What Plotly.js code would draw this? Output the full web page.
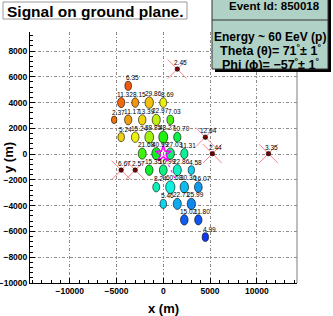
<!DOCTYPE html>
<html><head><meta charset="utf-8">
<script src="https://cdn.plot.ly/plotly-3.0.1.min.js"></script>
<style>html,body{margin:0;padding:0;background:#fff}#chart{width:333px;height:316px}</style>
</head><body><div id="chart"></div>
<script>
// ---- data ----
const stationX = [-3750,
  -4500, -3000, -1500, 0,
  -5250, -3750, -2250, -750, 750,
  -4500, -3000, -1500, 0, 1500,
  -2250, -750, 750, 2250,
  -1500, 0, 1500, 3000,
  -750, 750, 2250, 3750,
  0, 1500, 3000,
  2250, 3750,
  4500];
const stationY = [5300,
  4000, 4000, 4000, 4000,
  2660, 2660, 2660, 2660, 2660,
  1320, 1320, 1320, 1320, 1320,
  40, 40, 40, 40,
  -1240, -1240, -1240, -1240,
  -2560, -2560, -2560, -2560,
  -3860, -3860, -3860,
  -5100, -5100,
  -6440];
const stationSignal = [6.35,
  11.32, 8.15, 29.86, 8.69,
  2.37, 11.17, 13.39, 22.97, 7.03,
  5.24, 15.24, 38.85, 48.27, 10.70,
  21.68, 40.99, 27.03, 11.31,
  15.35, 16.99, 22.86, 4.58,
  8.24, 60.68, 30.36, 16.07,
  5.46, 22.71, 25.99,
  15.02, 11.80,
  4.99];
// relative arrival time (0 = earliest, 1 = latest)
const stationTime = [0.01,
  0.04, 0.12, 0.19, 0.28,
  0.06, 0.13, 0.22, 0.32, 0.40,
  0.22, 0.27, 0.34, 0.43, 0.50,
  0.41, 0.46, 0.53, 0.57,
  0.47, 0.55, 0.61, 0.69,
  0.60, 0.64, 0.71, 0.76,
  0.68, 0.74, 0.79,
  0.88, 0.90,
  0.97];
const rejX = [1500, 4500, 5250, 11250, -4500, -3000];
const rejY = [6600, 1320, 40, 40, -1240, -1240];
const rejSignal = [2.45, 12.64, 2.44, 3.35, 6.67, 2.57];
const coreX = [0];
const coreY = [30];
const axisPhiDeg = -57;
const titleText = 'Signal on ground plane.';
const eventLines = ['Event Id: 850018', 'Energy ~ 60 EeV (p)',
  'Theta (θ)= 71<sup>°</sup>± 1<sup>°</sup>', 'Phi (ϕ)= −57<sup>°</sup>± 1<sup>°</sup>'];

// ---- layout geometry ----
const W = 333, H = 316, ML = 30, MR = 36, MT = 32, MB = 33;
const PW = W - ML - MR, PH = H - MT - MB;
const XR = [-14250, 14300], YR = [-10001, 9480];
const pxPerMy = PH / (YR[1] - YR[0]);
const px2x = p => (p - ML) / PW;
const py2y = p => (H - MB - p) / PH;

const hueStops = [[0, 18], [0.2, 48], [0.3, 66], [0.45, 122], [0.6, 165], [0.7, 192], [0.8, 210], [1, 232]];
function colorOf(t) {
  let h = hueStops[hueStops.length - 1][1];
  for (let i = 0; i < hueStops.length - 1; i++) {
    const a = hueStops[i], b = hueStops[i + 1];
    if (t >= a[0] && t <= b[0]) { h = a[1] + (b[1] - a[1]) * (t - a[0]) / (b[0] - a[0]); break; }
  }
  return 'hsl(' + h.toFixed(0) + ',88%,50%)';
}
const radiusOf = s => 240 + 62 * Math.log(s);
const labelFont = {family: 'Liberation Sans, Arial, sans-serif', size: 6.5, color: '#000'};

const shapes = [];
const annotations = [];
stationX.forEach((x, i) => {
  const y = stationY[i], r = radiusOf(stationSignal[i]);
  shapes.push({type: 'circle', xref: 'x', yref: 'y', layer: 'between',
    x0: x - r, x1: x + r, y0: y - r, y1: y + r,
    fillcolor: colorOf(stationTime[i]), line: {color: '#000', width: 0.6}});
  annotations.push({xref: 'x', yref: 'y', x: x, y: y, text: stationSignal[i].toFixed(2),
    showarrow: false, xanchor: 'center', yanchor: 'bottom', xshift: 4, yshift: r * pxPerMy - 2,
    font: labelFont});
});
rejX.forEach((x, i) => {
  annotations.push({xref: 'x', yref: 'y', x: x, y: rejY[i], text: rejSignal[i].toFixed(2),
    showarrow: false, xanchor: 'center', yanchor: 'bottom', xshift: 3.5, yshift: 1,
    font: labelFont});
});

// shower axis projection
const L = 2250, ph = axisPhiDeg * Math.PI / 180;
const axisLineX = [coreX[0], coreX[0] + L * Math.cos(ph)];
const axisLineY = [coreY[0], coreY[0] + L * Math.sin(ph)];

// frame line on the right
shapes.push({type: 'line', xref: 'paper', yref: 'paper', x0: 1, x1: 1, y0: 0, y1: 1,
  line: {color: '#a8a8a8', width: 1.5}, layer: 'below'});
// title box
shapes.push({type: 'rect', xref: 'paper', yref: 'paper', x0: px2x(3), x1: px2x(187), y0: py2y(19), y1: py2y(2),
  fillcolor: '#fff', line: {color: '#9a9a9a', width: 1}});
annotations.push({xref: 'paper', yref: 'paper', x: px2x(95.5), y: py2y(11), xanchor: 'center', yanchor: 'middle',
  text: '<b>' + titleText + '</b>', showarrow: false,
  font: {family: 'Liberation Sans, Arial, sans-serif', size: 15.5, color: '#000'}});
// event info box (shadow + box + header)
shapes.push({type: 'rect', xref: 'paper', yref: 'paper', x0: px2x(215), x1: px2x(331), y0: py2y(72), y1: py2y(-5),
  fillcolor: '#000', line: {width: 0}});
shapes.push({type: 'rect', xref: 'paper', yref: 'paper', x0: px2x(212), x1: px2x(328), y0: py2y(69), y1: py2y(-5),
  fillcolor: '#b0d2c6', line: {color: '#333', width: 1}});
shapes.push({type: 'line', xref: 'paper', yref: 'paper', x0: px2x(212), x1: px2x(328), y0: py2y(20), y1: py2y(20),
  line: {color: '#333', width: 1}});
const boxFont = {family: 'Liberation Sans, Arial, sans-serif', color: '#000'};
[[274, 6, 11.5], [269.5, 36.5, 12], [270, 50, 12.5], [270, 63.5, 12.5]].forEach((p, i) => {
  annotations.push({xref: 'paper', yref: 'paper', x: px2x(p[0]), y: py2y(p[1]), xanchor: 'center', yanchor: 'middle',
    text: '<b>' + eventLines[i] + '</b>', showarrow: false, font: Object.assign({size: p[2]}, boxFont)});
});
// y axis title
annotations.push({xref: 'paper', yref: 'paper', x: px2x(8), y: py2y(158), xanchor: 'center', yanchor: 'middle',
  text: '<b>y (m)</b>', textangle: -90, showarrow: false, font: Object.assign({size: 13}, boxFont)});

const crossColor = 'rgb(255,130,140)';
const traces = [
  {type: 'scatter', mode: 'lines', x: axisLineX, y: axisLineY, hoverinfo: 'skip',
    line: {color: '#ff00ff', width: 1, dash: 'dot'}},
  {type: 'scatter', mode: 'markers', x: rejX, y: rejY, hoverinfo: 'skip',
    marker: {symbol: 'x-thin-open', size: 19, color: crossColor, line: {color: crossColor, width: 1}}},
  {type: 'scatter', mode: 'markers', x: rejX, y: rejY, hoverinfo: 'skip',
    marker: {symbol: 'circle', size: 4.5, color: '#7a0000', line: {color: '#000', width: 0.6}}},
  {type: 'scatter', mode: 'markers', x: coreX, y: coreY, hoverinfo: 'skip',
    marker: {symbol: 'star-open', size: 12, color: '#ff00ff', line: {color: '#ff00ff', width: 1.5}}}
];

const axisCommon = {
  showline: true, linecolor: '#000', linewidth: 1, mirror: false,
  ticks: 'inside', ticklen: 5, tickwidth: 1, tickcolor: '#000',
  showgrid: true, gridcolor: '#8c8c8c', gridwidth: 1, griddash: '3px,2px,1px,2px',
  zeroline: false, tickformat: 'd',
  tickfont: {family: 'Liberation Sans, Arial, sans-serif', size: 8.5, color: '#000', weight: 'bold'}
};
const layout = {
  width: W, height: H, margin: {l: ML, r: MR, t: MT, b: MB, pad: 0},
  paper_bgcolor: '#fff', plot_bgcolor: '#fff', showlegend: false,
  xaxis: Object.assign({}, axisCommon, {range: XR, dtick: 5000, tick0: 0,
    minor: {ticks: 'inside', ticklen: 3, dtick: 1000, tickcolor: '#000', showgrid: false},
    title: {text: '<b>x (m)</b>', standoff: 10, font: {family: 'Liberation Sans, Arial, sans-serif', size: 13, color: '#000'}}}),
  yaxis: Object.assign({}, axisCommon, {range: YR, dtick: 2000, tick0: 0,
    minor: {ticks: 'inside', ticklen: 3, dtick: 400, tickcolor: '#000', showgrid: false}}),
  shapes: shapes, annotations: annotations
};
Plotly.newPlot('chart', traces, layout, {staticPlot: true, displayModeBar: false});
</script></body></html>
